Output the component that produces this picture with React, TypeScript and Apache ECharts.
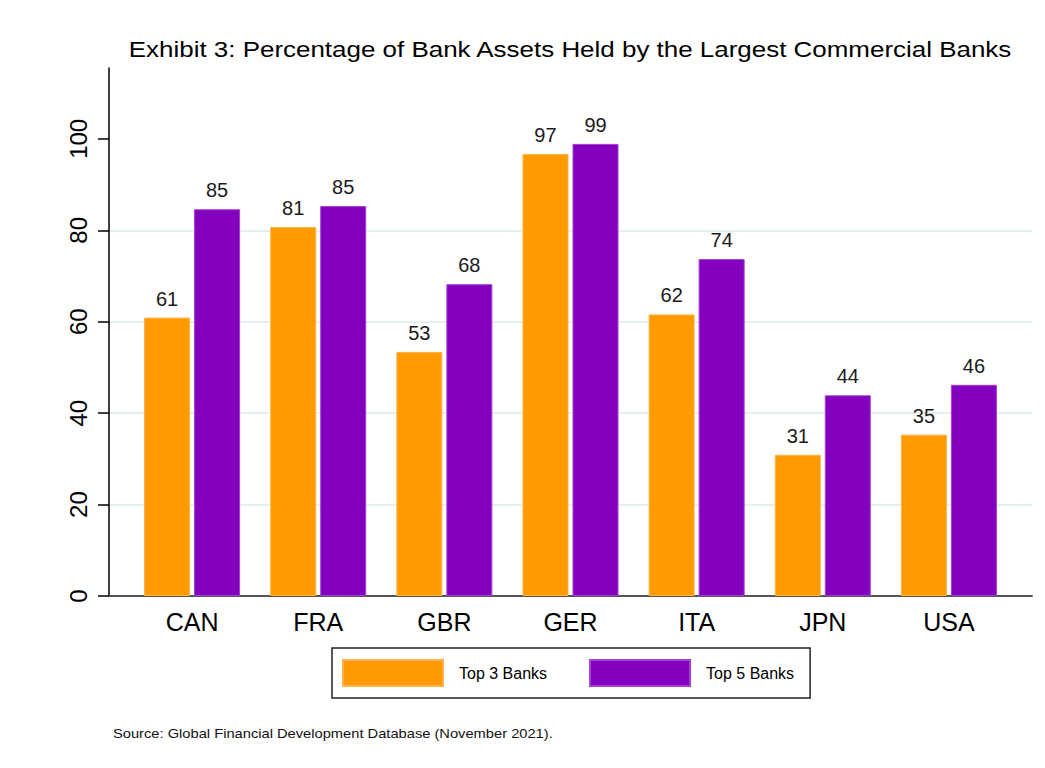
import React, { useEffect, useRef } from "react";
import * as echarts from "echarts";

const categories = ["CAN", "FRA", "GBR", "GER", "ITA", "JPN", "USA"];
const top3Banks = [60.9, 80.7, 53.4, 96.7, 61.6, 30.9, 35.3];
const top5Banks = [84.6, 85.3, 68.2, 98.9, 73.7, 43.9, 46.2];
const yTicks = [0, 20, 40, 60, 80, 100];
const seriesNames = ["Top 3 Banks", "Top 5 Banks"];
const titleText = "Exhibit 3: Percentage of Bank Assets Held by the Largest Commercial Banks";
const sourceText = "Source: Global Financial Development Database (November 2021).";

const FONT = "'Liberation Sans', Arial, Helvetica, sans-serif";
const Y_MAX = 115.5;

export default function App() {
  const ref = useRef<HTMLDivElement>(null);
  useEffect(() => {
    if (!ref.current) return;
    const chart = echarts.init(ref.current, undefined, { renderer: "svg" });
    const labelCfg = {
      show: true,
      position: "top",
      distance: 9,
      fontSize: 20,
      fontFamily: FONT,
      color: "#1a1a1a",
      formatter: (p: any) => String(Math.round(p.value)),
    };
    chart.setOption({
      animation: false,
      backgroundColor: "#ffffff",
      graphic: [
        {
          type: "text",
          x: 570,
          y: 49,
          scaleX: 1.18,
          style: {
            text: titleText,
            font: `22px ${FONT}`,
            fill: "#000",
            textAlign: "center",
            textVerticalAlign: "middle",
          },
        },
        {
          type: "text",
          x: 113,
          y: 733,
          scaleX: 1.13,
          style: {
            text: sourceText,
            font: `13px ${FONT}`,
            fill: "#111",
            textAlign: "left",
            textVerticalAlign: "middle",
          },
        },
      ],
      legend: {
        data: seriesNames,
        left: 332,
        top: 648,
        orient: "horizontal",
        icon: "rect",
        itemWidth: 100,
        itemHeight: 26,
        itemGap: 42,
        padding: [11, 16, 11, 10],
        borderColor: "#222",
        borderWidth: 1.5,
        textStyle: { fontFamily: FONT, fontSize: 16, color: "#000", padding: [0, 0, 0, 11] },
      },
      grid: [
        { left: 109, right: 13, top: 68, bottom: 172 },
        { left: 129, right: 33, top: 68, bottom: 172 },
      ],
      xAxis: [
        {
          type: "category",
          gridIndex: 0,
          data: categories,
          axisLine: { show: true, lineStyle: { color: "#555", width: 2 } },
          axisTick: { show: false },
          axisLabel: { show: false },
        },
        {
          type: "category",
          gridIndex: 1,
          data: categories,
          axisLine: { show: false },
          axisTick: { show: false },
          axisLabel: { fontFamily: FONT, fontSize: 25, color: "#000", margin: 13 },
        },
      ],
      yAxis: [
        {
          type: "value",
          gridIndex: 0,
          min: 0,
          max: Y_MAX,
          interval: 20,
          axisLine: { show: true, lineStyle: { color: "#000", width: 1.5 } },
          axisTick: { show: true, length: 11, lineStyle: { color: "#000", width: 1.5 }, customValues: yTicks },
          axisLabel: {
            rotate: 90,
            margin: 19,
            fontFamily: FONT,
            fontSize: 24,
            color: "#000",
            customValues: yTicks,
          },
          splitLine: {
            show: true,
            showMaxLine: false,
            showMinLine: false,
            lineStyle: { color: "#E5EEF0", width: 2 },
          },
        },
        {
          type: "value",
          gridIndex: 1,
          min: 0,
          max: Y_MAX,
          show: false,
          splitLine: { show: false },
        },
      ],
      series: [
        {
          name: seriesNames[0],
          type: "bar",
          xAxisIndex: 1,
          yAxisIndex: 1,
          data: top3Banks,
          barWidth: 46,
          barGap: "8.7%",
          itemStyle: { color: "#FF9A00", borderColor: "#FFB347", borderWidth: 1 },
          label: labelCfg,
        },
        {
          name: seriesNames[1],
          type: "bar",
          xAxisIndex: 1,
          yAxisIndex: 1,
          data: top5Banks,
          barWidth: 46,
          barGap: "8.7%",
          itemStyle: { color: "#8200BE", borderColor: "#A040D8", borderWidth: 1 },
          label: labelCfg,
        },
      ],
    });
    return () => chart.dispose();
  }, []);
  return (
    <div
      ref={ref}
      style={{ position: "fixed", left: 0, top: 0, width: 1045, height: 768, background: "#fff" }}
    />
  );
}
